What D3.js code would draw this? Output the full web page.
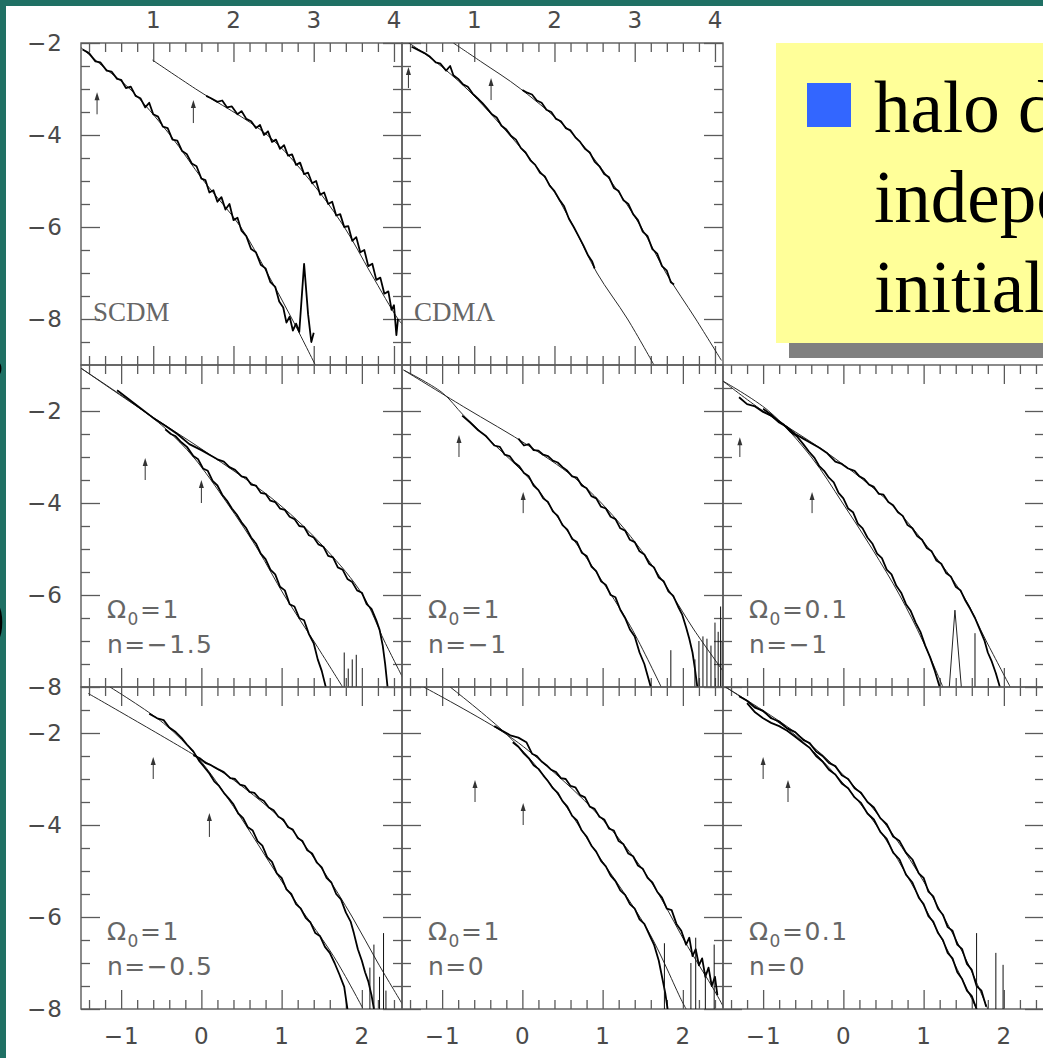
<!DOCTYPE html>
<html>
<head>
<meta charset="utf-8">
<script src="https://cdn.jsdelivr.net/npm/d3@7"></script>
<style>
html, body { margin: 0; padding: 0; background: #1f7064; overflow: hidden; width: 1043px; height: 1058px }
svg { display: block }
</style>
</head>
<body>
<svg id="chart" width="1043" height="1058"></svg>
<script>

// tick labels
const topTicks = [1, 2, 3, 4]
const bottomTicks = [-1, 0, 1, 2]
const yTicks = [-8, -6, -4, -2]
const bulletLines = ['halo density profiles', 'independent of', 'initial conditions']

// SCDM  (x: 0.1..4.1, y: -9..-2)
const scdmFitLow = [[0.1,-2.1],[0.4,-2.55],[0.71,-3.0],[1.21,-4.0],[1.63,-5.0],[2.09,-6.0],[2.42,-7.0],[2.73,-8.0],[3.02,-9.0]]
const scdmFitHigh = [[0.99,-2.37],[1.53,-3.0],[2.42,-4.0],[2.96,-5.0],[3.38,-6.0],[3.71,-7.0],[4.05,-8.0],[4.12,-8.15]]
const scdmLow = [[0.12,-2.14],[0.2,-2.22],[0.28,-2.4],[0.34,-2.42],[0.42,-2.6],[0.48,-2.62],[0.55,-2.78],[0.6,-2.8],[0.66,-2.98],[0.72,-2.95],[0.78,-3.15],[0.84,-3.2],[0.9,-3.4],[0.95,-3.3],[1.0,-3.55],[1.06,-3.6],[1.12,-3.82],[1.18,-3.85],[1.24,-4.1],[1.3,-4.12],[1.36,-4.35],[1.42,-4.42],[1.48,-4.62],[1.54,-4.68],[1.6,-4.95],[1.65,-4.98],[1.7,-5.25],[1.75,-5.2],[1.8,-5.45],[1.85,-5.35],[1.9,-5.62],[1.95,-5.5],[2.0,-5.85],[2.05,-5.8],[2.1,-6.08],[2.16,-6.2],[2.22,-6.48],[2.28,-6.55],[2.34,-6.82],[2.4,-6.9],[2.46,-7.2],[2.52,-7.3],[2.57,-7.62],[2.62,-7.75],[2.66,-8.08],[2.7,-7.95],[2.74,-8.25],[2.78,-8.1],[2.82,-8.28],[2.88,-6.8],[2.93,-7.9],[2.97,-8.5],[3.0,-8.3]]
const scdmHigh = [[1.66,-3.15],[1.72,-3.2],[1.8,-3.28],[1.86,-3.25],[1.92,-3.4],[1.98,-3.38],[2.05,-3.55],[2.1,-3.48],[2.16,-3.65],[2.22,-3.7],[2.28,-3.85],[2.33,-3.78],[2.38,-4.0],[2.43,-3.92],[2.48,-4.15],[2.53,-4.1],[2.58,-4.3],[2.63,-4.22],[2.68,-4.45],[2.73,-4.42],[2.78,-4.65],[2.83,-4.6],[2.88,-4.85],[2.93,-4.82],[2.98,-5.05],[3.03,-5.0],[3.08,-5.3],[3.13,-5.25],[3.18,-5.5],[3.23,-5.45],[3.28,-5.75],[3.33,-5.72],[3.38,-6.0],[3.43,-5.98],[3.48,-6.3],[3.53,-6.22],[3.58,-6.55],[3.63,-6.5],[3.68,-6.85],[3.73,-6.8],[3.78,-7.15],[3.83,-7.1],[3.88,-7.45],[3.93,-7.4],[3.97,-7.8],[4.0,-7.7],[4.03,-8.35],[4.05,-8.0]]
const scdmArrows = [[0.3,-3.07,-3.55],[1.5,-3.24,-3.74]]

// CDM Lambda  (x: 0.1..4.1, y: -9..-2)
const lcdmFitLow = [[0.1,-1.9],[0.49,-2.37],[0.91,-3.0],[1.44,-4.0],[1.91,-5.0],[2.24,-6.0],[2.53,-7.0],[2.91,-8.0],[3.24,-9.0]]
const lcdmFitHigh = [[0.74,-2.0],[1.08,-2.4],[1.58,-3.0],[2.24,-4.0],[2.7,-5.0],[3.08,-6.0],[3.39,-7.0],[3.76,-8.0],[4.08,-8.9]]
const lcdmLow = [[0.22,-2.08],[0.3,-2.15],[0.38,-2.22],[0.45,-2.3],[0.52,-2.42],[0.58,-2.45],[0.65,-2.6],[0.7,-2.5],[0.74,-2.7],[0.8,-2.78],[0.86,-2.9],[0.92,-2.95],[0.98,-3.1],[1.04,-3.2],[1.1,-3.3],[1.16,-3.42],[1.22,-3.55],[1.28,-3.62],[1.34,-3.8],[1.4,-3.88],[1.46,-4.02],[1.52,-4.1],[1.58,-4.28],[1.64,-4.38],[1.7,-4.55],[1.76,-4.65],[1.82,-4.82],[1.88,-4.9],[1.94,-5.1],[2.0,-5.22],[2.06,-5.4],[2.12,-5.55],[2.18,-5.82],[2.24,-6.0],[2.3,-6.2],[2.36,-6.4],[2.42,-6.62],[2.47,-6.75],[2.5,-6.9]]
const lcdmHigh = [[1.6,-3.02],[1.66,-3.08],[1.72,-3.12],[1.78,-3.25],[1.84,-3.3],[1.9,-3.45],[1.96,-3.5],[2.02,-3.65],[2.08,-3.7],[2.14,-3.85],[2.2,-3.9],[2.26,-4.05],[2.32,-4.15],[2.38,-4.3],[2.44,-4.38],[2.5,-4.58],[2.56,-4.68],[2.62,-4.85],[2.68,-4.92],[2.74,-5.15],[2.8,-5.22],[2.86,-5.42],[2.92,-5.5],[2.98,-5.72],[3.04,-5.85],[3.1,-6.1],[3.16,-6.2],[3.22,-6.48],[3.28,-6.58],[3.34,-6.85],[3.4,-6.95],[3.45,-7.2],[3.49,-7.25]]
const lcdmArrows = [[0.18,-2.52,-2.98],[1.21,-2.76,-3.24]]

// Omega0=1, n=-1.5  (x: -1.5..2.5, y: -8..-1)
const p1FitHigh = [[-1.5,-1.07],[-0.72,-2.0],[0.15,-3.0],[0.95,-4.0],[1.55,-5.0],[2.01,-6.0],[2.28,-7.0],[2.51,-7.8]]
const p1FitLow = [[-1.5,-1.07],[-0.72,-2.0],[-0.43,-2.41],[-0.1,-3.0],[0.32,-4.0],[0.7,-5.0],[1.03,-6.0],[1.4,-7.0],[1.76,-8.0]]
const p1High = [[-1.05,-1.55],[-0.9,-1.75],[-0.75,-1.95],[-0.6,-2.15],[-0.45,-2.32],[-0.3,-2.5],[-0.15,-2.72],[0.0,-2.85],[0.1,-2.95],[0.2,-3.05],[0.28,-3.1],[0.35,-3.22],[0.42,-3.28],[0.5,-3.42],[0.56,-3.45],[0.62,-3.6],[0.68,-3.62],[0.74,-3.78],[0.8,-3.8],[0.86,-3.95],[0.92,-3.98],[0.98,-4.12],[1.04,-4.15],[1.1,-4.3],[1.16,-4.35],[1.22,-4.5],[1.28,-4.52],[1.34,-4.7],[1.4,-4.75],[1.46,-4.9],[1.52,-4.95],[1.58,-5.15],[1.64,-5.18],[1.7,-5.4],[1.76,-5.45],[1.82,-5.65],[1.88,-5.72],[1.94,-5.9],[2.0,-5.95],[2.06,-6.2],[2.12,-6.3],[2.18,-6.55],[2.22,-6.75],[2.26,-7.1],[2.29,-7.5],[2.32,-8.0]]
const p1Low = [[-0.45,-2.4],[-0.38,-2.5],[-0.32,-2.55],[-0.25,-2.68],[-0.18,-2.78],[-0.1,-2.98],[-0.04,-3.05],[0.02,-3.25],[0.08,-3.3],[0.14,-3.52],[0.2,-3.62],[0.26,-3.82],[0.32,-3.95],[0.38,-4.12],[0.44,-4.25],[0.5,-4.42],[0.56,-4.55],[0.62,-4.75],[0.68,-4.88],[0.74,-5.1],[0.8,-5.22],[0.86,-5.45],[0.92,-5.55],[0.98,-5.82],[1.04,-5.9],[1.1,-6.2],[1.16,-6.25],[1.22,-6.5],[1.28,-6.55],[1.34,-6.85],[1.4,-7.05],[1.45,-7.4],[1.5,-7.65],[1.55,-8.0]]
const p1Spikes = [[1.78,-7.25],[1.83,-7.6],[1.88,-7.4],[1.93,-7.3]]
const p1Arrows = [[-0.7,-3.02,-3.5],[0.0,-3.5,-4.0]]

// Omega0=1, n=-1
const p2FitHigh = [[-1.48,-1.11],[-0.73,-1.91],[0.1,-2.78],[0.73,-3.57],[1.35,-4.73],[1.85,-5.96],[2.14,-6.76],[2.52,-7.7]]
const p2FitLow = [[-1.48,-1.11],[-1.0,-1.6],[-0.73,-2.1],[-0.32,-2.78],[0.1,-3.5],[0.52,-4.51],[0.93,-5.53],[1.35,-6.69],[1.73,-8.0]]
const p2High = [[-0.05,-2.6],[0.02,-2.75],[0.08,-2.72],[0.14,-2.85],[0.2,-2.86],[0.26,-2.95],[0.32,-2.98],[0.38,-3.08],[0.44,-3.12],[0.5,-3.22],[0.56,-3.3],[0.62,-3.42],[0.68,-3.45],[0.74,-3.62],[0.8,-3.68],[0.86,-3.85],[0.92,-3.9],[0.98,-4.08],[1.04,-4.12],[1.1,-4.3],[1.16,-4.35],[1.22,-4.55],[1.28,-4.6],[1.34,-4.8],[1.4,-4.85],[1.46,-5.05],[1.52,-5.12],[1.58,-5.32],[1.64,-5.4],[1.7,-5.62],[1.76,-5.7],[1.82,-5.92],[1.88,-6.02],[1.94,-6.25],[1.99,-6.42],[2.04,-6.7],[2.08,-6.95],[2.12,-7.25],[2.15,-7.6],[2.18,-8.0]]
const p2Low = [[-0.75,-2.1],[-0.65,-2.25],[-0.55,-2.42],[-0.45,-2.55],[-0.35,-2.75],[-0.28,-2.78],[-0.22,-2.95],[-0.16,-2.98],[-0.1,-3.12],[-0.04,-3.2],[0.02,-3.35],[0.08,-3.42],[0.14,-3.62],[0.2,-3.72],[0.26,-3.9],[0.32,-3.98],[0.38,-4.18],[0.44,-4.28],[0.5,-4.48],[0.56,-4.58],[0.62,-4.78],[0.68,-4.85],[0.74,-5.08],[0.8,-5.15],[0.86,-5.38],[0.92,-5.48],[0.98,-5.7],[1.04,-5.78],[1.1,-6.0],[1.16,-6.05],[1.22,-6.32],[1.28,-6.5],[1.34,-6.75],[1.4,-6.9],[1.46,-7.25],[1.52,-7.5],[1.56,-7.75],[1.6,-8.0]]
const p2Spikes = [[1.85,-7.2],[2.15,-7.4],[2.2,-7.0],[2.25,-6.9],[2.3,-6.95],[2.35,-7.1],[2.4,-6.6],[2.44,-6.8],[2.47,-6.25],[2.49,-7.0]]
const p2Arrows = [[-0.79,-2.52,-3.0],[0.01,-3.76,-4.22]]

// Omega0=0.1, n=-1
const p3FitHigh = [[-1.5,-1.35],[-1.05,-1.94],[-0.13,-3.0],[0.58,-4.0],[1.07,-5.0],[1.49,-6.0],[1.78,-7.0],[2.08,-8.0]]
const p3FitLow = [[-1.5,-1.35],[-0.93,-2.0],[-0.4,-3.0],[-0.01,-4.0],[0.36,-5.0],[0.7,-6.0],[0.99,-7.0],[1.24,-8.0]]
const p3High = [[-1.3,-1.7],[-1.2,-1.85],[-1.1,-1.9],[-1.0,-2.02],[-0.9,-2.1],[-0.8,-2.25],[-0.7,-2.35],[-0.6,-2.5],[-0.5,-2.6],[-0.4,-2.7],[-0.3,-2.8],[-0.2,-2.92],[-0.1,-3.1],[-0.02,-3.15],[0.06,-3.25],[0.14,-3.3],[0.2,-3.42],[0.26,-3.48],[0.32,-3.6],[0.38,-3.65],[0.44,-3.8],[0.5,-3.82],[0.56,-3.98],[0.62,-4.05],[0.68,-4.2],[0.74,-4.28],[0.8,-4.48],[0.86,-4.55],[0.92,-4.72],[0.98,-4.8],[1.04,-4.98],[1.1,-5.05],[1.16,-5.25],[1.22,-5.32],[1.28,-5.52],[1.34,-5.6],[1.4,-5.82],[1.46,-5.9],[1.52,-6.12],[1.58,-6.3],[1.64,-6.5],[1.7,-6.75],[1.76,-7.0],[1.8,-7.25],[1.85,-7.45],[1.9,-7.7],[1.95,-8.0]]
const p3Low = [[-1.0,-1.95],[-0.9,-2.08],[-0.82,-2.2],[-0.74,-2.3],[-0.66,-2.45],[-0.58,-2.55],[-0.5,-2.72],[-0.43,-2.88],[-0.36,-3.02],[-0.3,-3.2],[-0.24,-3.3],[-0.18,-3.45],[-0.12,-3.55],[-0.06,-3.78],[0.0,-3.9],[0.06,-4.12],[0.12,-4.2],[0.18,-4.45],[0.24,-4.55],[0.3,-4.75],[0.36,-4.88],[0.42,-5.1],[0.48,-5.2],[0.54,-5.45],[0.6,-5.55],[0.66,-5.8],[0.72,-5.95],[0.78,-6.2],[0.84,-6.35],[0.9,-6.6],[0.96,-6.8],[1.02,-7.1],[1.08,-7.35],[1.14,-7.65],[1.2,-8.0]]
const p3Peak = [[1.32,-8.0],[1.39,-6.33],[1.47,-8.0]]
const p3Spikes = [[1.64,-6.83]]
const p3Arrows = [[-1.29,-2.57,-3.0],[-0.39,-3.76,-4.22]]

// Omega0=1, n=-0.5
const p4FitShallow = [[-1.41,-1.14],[-0.05,-2.52],[0.4,-3.02],[1.07,-4.0],[1.52,-5.0],[1.88,-6.0],[2.2,-7.0],[2.51,-7.91]]
const p4FitSteep = [[-1.14,-1.0],[-0.47,-1.79],[-0.05,-2.52],[0.4,-3.6],[1.03,-5.3],[1.65,-6.86],[2.01,-7.98]]
const p4High = [[-0.1,-2.48],[-0.02,-2.55],[0.05,-2.65],[0.12,-2.7],[0.2,-2.78],[0.28,-2.85],[0.36,-2.98],[0.42,-3.0],[0.48,-3.12],[0.54,-3.15],[0.6,-3.28],[0.66,-3.3],[0.72,-3.42],[0.78,-3.48],[0.84,-3.62],[0.9,-3.68],[0.96,-3.82],[1.02,-3.88],[1.08,-4.05],[1.14,-4.1],[1.2,-4.28],[1.26,-4.35],[1.32,-4.55],[1.38,-4.62],[1.44,-4.82],[1.5,-4.92],[1.56,-5.15],[1.62,-5.25],[1.68,-5.5],[1.74,-5.62],[1.8,-5.9],[1.86,-6.1],[1.9,-6.35],[1.95,-6.7],[2.0,-6.95],[2.04,-7.2],[2.08,-7.4],[2.12,-7.7],[2.15,-8.0]]
const p4Low = [[-0.65,-1.58],[-0.55,-1.68],[-0.47,-1.72],[-0.4,-1.88],[-0.32,-1.98],[-0.25,-2.1],[-0.18,-2.25],[-0.1,-2.4],[-0.03,-2.6],[0.04,-2.75],[0.1,-2.88],[0.16,-3.05],[0.22,-3.15],[0.28,-3.3],[0.34,-3.42],[0.4,-3.55],[0.46,-3.75],[0.52,-3.85],[0.58,-4.05],[0.64,-4.12],[0.7,-4.35],[0.76,-4.45],[0.82,-4.7],[0.88,-4.8],[0.94,-5.05],[1.0,-5.15],[1.06,-5.4],[1.12,-5.5],[1.18,-5.72],[1.24,-5.82],[1.3,-6.02],[1.36,-6.12],[1.42,-6.35],[1.48,-6.42],[1.54,-6.65],[1.6,-6.78],[1.66,-7.0],[1.72,-7.25],[1.78,-7.52],[1.82,-8.0]]
const p4Spikes = [[2.1,-7.1],[2.15,-6.6],[2.22,-7.3],[2.27,-6.35],[2.3,-7.6]]
const p4Arrows = [[-0.6,-2.52,-3.0],[0.1,-3.74,-4.26]]

// Omega0=1, n=0
const p5FitSteep = [[-0.9,-1.0],[-0.19,-2.04],[0.31,-3.02],[0.93,-4.62],[1.56,-6.28],[1.98,-7.8],[2.04,-8.0]]
const p5FitShallow = [[-1.23,-1.0],[-0.19,-2.04],[0.31,-2.73],[0.93,-3.75],[1.56,-5.12],[2.06,-6.64],[2.39,-7.59],[2.52,-8.0]]
const p5High = [[-0.35,-1.85],[-0.25,-1.95],[-0.15,-2.05],[-0.05,-2.1],[0.05,-2.2],[0.12,-2.45],[0.18,-2.5],[0.24,-2.62],[0.3,-2.7],[0.36,-2.8],[0.42,-2.85],[0.48,-2.98],[0.54,-3.0],[0.6,-3.15],[0.66,-3.18],[0.72,-3.35],[0.78,-3.4],[0.84,-3.6],[0.9,-3.65],[0.96,-3.82],[1.02,-3.88],[1.08,-4.08],[1.14,-4.12],[1.2,-4.35],[1.26,-4.42],[1.32,-4.62],[1.38,-4.68],[1.44,-4.88],[1.5,-4.95],[1.56,-5.15],[1.62,-5.25],[1.68,-5.45],[1.74,-5.58],[1.8,-5.82],[1.86,-5.85],[1.92,-6.15],[1.98,-6.3],[2.04,-6.6],[2.08,-6.45],[2.12,-6.85],[2.16,-6.7],[2.2,-7.05],[2.24,-6.9],[2.28,-7.3],[2.32,-7.1],[2.36,-7.5],[2.4,-7.3],[2.43,-7.7]]
const p5Low = [[-0.12,-2.2],[-0.05,-2.3],[0.02,-2.45],[0.08,-2.55],[0.14,-2.7],[0.2,-2.78],[0.26,-2.92],[0.32,-3.05],[0.38,-3.2],[0.44,-3.3],[0.5,-3.48],[0.56,-3.6],[0.62,-3.8],[0.68,-3.9],[0.74,-4.12],[0.8,-4.25],[0.86,-4.45],[0.92,-4.58],[0.98,-4.78],[1.04,-4.9],[1.1,-5.1],[1.16,-5.22],[1.22,-5.42],[1.28,-5.52],[1.34,-5.72],[1.4,-5.82],[1.46,-6.05],[1.52,-6.15],[1.58,-6.38],[1.64,-6.6],[1.7,-6.95],[1.74,-7.3],[1.78,-7.65],[1.81,-8.0]]
const p5Spikes = [[1.77,-6.57],[2.1,-7.0],[2.16,-6.45],[2.28,-7.2],[2.39,-6.6]]
const p5Arrows = [[-0.59,-3.02,-3.5],[0.01,-3.52,-4.0]]

// Omega0=0.1, n=0
const p6FitA = [[-1.47,-1.0],[-0.59,-2.0],[0.05,-3.0],[0.53,-4.0],[0.92,-5.0],[1.25,-6.0],[1.55,-7.0],[1.8,-8.0]]
const p6FitB = [[-1.47,-1.0],[-0.59,-2.06],[-0.05,-3.0],[0.41,-4.0],[0.76,-5.0],[1.08,-6.0],[1.38,-7.0],[1.66,-8.0]]
const p6High = [[-1.3,-1.2],[-1.2,-1.3],[-1.1,-1.45],[-1.0,-1.52],[-0.9,-1.68],[-0.8,-1.75],[-0.7,-1.9],[-0.6,-1.98],[-0.5,-2.15],[-0.42,-2.22],[-0.34,-2.4],[-0.26,-2.5],[-0.18,-2.65],[-0.1,-2.72],[-0.02,-2.92],[0.06,-3.0],[0.14,-3.2],[0.22,-3.3],[0.3,-3.5],[0.38,-3.62],[0.46,-3.85],[0.54,-3.98],[0.62,-4.25],[0.7,-4.35],[0.78,-4.6],[0.86,-4.75],[0.94,-5.05],[1.0,-5.15],[1.06,-5.45],[1.12,-5.55],[1.18,-5.82],[1.24,-5.95],[1.3,-6.22],[1.36,-6.3],[1.42,-6.6],[1.48,-6.7],[1.54,-7.02],[1.6,-7.15],[1.66,-7.5],[1.72,-7.6],[1.78,-7.95]]
const p6Low = [[-1.2,-1.35],[-1.1,-1.55],[-1.0,-1.68],[-0.9,-1.78],[-0.8,-1.85],[-0.7,-1.95],[-0.6,-2.08],[-0.5,-2.22],[-0.42,-2.32],[-0.34,-2.5],[-0.26,-2.62],[-0.18,-2.8],[-0.1,-2.9],[-0.02,-3.1],[0.06,-3.2],[0.14,-3.4],[0.22,-3.52],[0.3,-3.75],[0.38,-3.88],[0.46,-4.15],[0.54,-4.3],[0.62,-4.6],[0.7,-4.75],[0.78,-5.08],[0.86,-5.25],[0.94,-5.58],[1.0,-5.72],[1.06,-5.98],[1.12,-6.1],[1.18,-6.35],[1.24,-6.5],[1.3,-6.78],[1.36,-6.9],[1.42,-7.2],[1.48,-7.35],[1.54,-7.6],[1.6,-7.72],[1.66,-8.0]]
const p6Spikes = [[1.66,-6.35],[1.9,-6.78],[1.99,-7.04]]
const p6Arrows = [[-1.0,-2.52,-3.0],[-0.69,-3.02,-3.5]]

const topX = [0.1, 4.1], topY = [-9, -2]
const lowX = [-1.5, 2.5], lowY = [-8, -1]

const panels = [
    { row: 0, col: 0, xd: topX, yd: topY, fits: [scdmFitLow, scdmFitHigh], data: [scdmLow, scdmHigh], thin: [], spikes: [], arrows: scdmArrows, name: 'SCDM' },
    { row: 0, col: 1, xd: topX, yd: topY, fits: [lcdmFitLow, lcdmFitHigh], data: [lcdmLow, lcdmHigh], thin: [], spikes: [], arrows: lcdmArrows, name: 'CDMΛ' },
    { row: 1, col: 0, xd: lowX, yd: lowY, fits: [p1FitHigh, p1FitLow], data: [p1High, p1Low], thin: [], spikes: p1Spikes, arrows: p1Arrows, omega: '1', n: '−1.5' },
    { row: 1, col: 1, xd: lowX, yd: lowY, fits: [p2FitHigh, p2FitLow], data: [p2High, p2Low], thin: [], spikes: p2Spikes, arrows: p2Arrows, omega: '1', n: '−1' },
    { row: 1, col: 2, xd: lowX, yd: lowY, fits: [p3FitHigh, p3FitLow], data: [p3High, p3Low], thin: [p3Peak], spikes: p3Spikes, arrows: p3Arrows, omega: '0.1', n: '−1' },
    { row: 2, col: 0, xd: lowX, yd: lowY, fits: [p4FitShallow, p4FitSteep], data: [p4High, p4Low], thin: [], spikes: p4Spikes, arrows: p4Arrows, omega: '1', n: '−0.5' },
    { row: 2, col: 1, xd: lowX, yd: lowY, fits: [p5FitSteep, p5FitShallow], data: [p5High, p5Low], thin: [], spikes: p5Spikes, arrows: p5Arrows, omega: '1', n: '0' },
    { row: 2, col: 2, xd: lowX, yd: lowY, fits: [p6FitA, p6FitB], data: [p6High, p6Low], thin: [], spikes: p6Spikes, arrows: p6Arrows, omega: '0.1', n: '0' }
]

const colX = [81, 402, 723], rowY = [43, 365, 687]
const W = 321, H = 322
const axisColor = '#5a5a5a'
const tickFont = '"DejaVu Sans", sans-serif'

const svg = d3.select('#chart')

svg.append('rect').attr('x', 6).attr('y', 6).attr('width', 1100).attr('height', 1100).attr('fill', '#fff')

// bits of big slide text peeking at the left edge
svg.append('text').attr('x', -24).attr('y', 378).attr('font-family', '"Liberation Serif", serif').attr('font-size', 72).attr('fill', '#000').text('s')
svg.append('text').attr('x', -31).attr('y', 646).attr('font-family', '"Liberation Serif", serif').attr('font-size', 72).attr('fill', '#000').text('0')

const defs = svg.append('defs')

function tickAxis(g, axisFn, scale, values, size, transform) {
    g.append('g').attr('transform', transform)
        .call(axisFn(scale).tickValues(values).tickSize(-size).tickSizeOuter(0).tickFormat(''))
        .call(s => s.select('.domain').remove())
        .call(s => s.selectAll('line').attr('stroke', axisColor).attr('stroke-width', 1.3))
}

function labelAxis(g, axisFn, scale, values, pad, transform) {
    g.append('g').attr('transform', transform)
        .call(axisFn(scale).tickValues(values).tickSize(0).tickPadding(pad).tickFormat(d3.format('d')))
        .call(s => s.select('.domain').remove())
        .call(s => s.selectAll('text')
            .attr('font-family', tickFont)
            .attr('font-size', 23)
            .attr('fill', '#4a4a4a')
            .attr('letter-spacing', 1))
}

const isInt = v => Math.abs(v - Math.round(v)) < 1e-6

panels.forEach((p, i) => {
    const x0 = colX[p.col], y0 = rowY[p.row]
    const x = d3.scaleLinear().domain(p.xd).range([x0, x0 + W])
    const y = d3.scaleLinear().domain(p.yd).range([y0 + H, y0])
    const g = svg.append('g')

    defs.append('clipPath').attr('id', 'clip' + i)
        .append('rect').attr('x', x0).attr('y', y0).attr('width', W).attr('height', H)

    const xMajor = p.row === 0 ? topTicks : bottomTicks
    const xMinor = d3.range(p.xd[0] + 0.1, p.xd[1], 0.2).map(v => Math.round(v * 10) / 10).filter(v => !isInt(v))
    const yMinor = d3.range(p.yd[0] + 0.5, p.yd[1], 0.5).filter(v => !(isInt(v) && Math.round(v) % 2 === 0))

    // frame
    g.append('rect').attr('x', x0).attr('y', y0).attr('width', W).attr('height', H)
        .attr('fill', 'none').attr('stroke', axisColor).attr('stroke-width', 1.4)

    // inward ticks on all four sides
    ;[[xMajor, 19], [xMinor, 9]].forEach(([vals, len]) => {
        tickAxis(g, d3.axisBottom, x, vals, len, `translate(0,${y0 + H})`)
        tickAxis(g, d3.axisTop, x, vals, len, `translate(0,${y0})`)
    })
    ;[[yTicks, 19], [yMinor, 9]].forEach(([vals, len]) => {
        tickAxis(g, d3.axisLeft, y, vals, len, `translate(${x0},0)`)
        tickAxis(g, d3.axisRight, y, vals, len, `translate(${x0 + W},0)`)
    })

    if (p.col === 0) labelAxis(g, d3.axisLeft, y, yTicks, 18, `translate(${x0},0)`)
    if (p.row === 0) labelAxis(g, d3.axisTop, x, topTicks, 15, `translate(0,${y0})`)
    if (p.row === 2) labelAxis(g, d3.axisBottom, x, bottomTicks, 19, `translate(0,${y0 + H})`)

    const plot = g.append('g').attr('clip-path', `url(#clip${i})`)

    const fitLine = d3.line().x(d => x(d[0])).y(d => y(d[1])).curve(d3.curveCatmullRom.alpha(0.5))
    const dataLine = d3.line().x(d => x(d[0])).y(d => y(d[1]))

    plot.selectAll('path.fit').data(p.fits).enter().append('path')
        .attr('class', 'fit')
        .attr('d', fitLine)
        .attr('fill', 'none').attr('stroke', '#2a2a2a').attr('stroke-width', 1)

    plot.selectAll('path.data').data(p.data).enter().append('path')
        .attr('class', 'data')
        .attr('d', dataLine)
        .attr('fill', 'none').attr('stroke', '#000').attr('stroke-width', 1.8).attr('stroke-linejoin', 'round')

    plot.selectAll('path.thin').data(p.thin).enter().append('path')
        .attr('class', 'thin')
        .attr('d', dataLine)
        .attr('fill', 'none').attr('stroke', '#222').attr('stroke-width', 1)

    plot.selectAll('line.spike').data(p.spikes).enter().append('line')
        .attr('class', 'spike')
        .attr('x1', d => x(d[0])).attr('x2', d => x(d[0]))
        .attr('y1', y(p.yd[0])).attr('y2', d => y(d[1]))
        .attr('stroke', '#111').attr('stroke-width', 1)

    // little arrows
    const arr = plot.selectAll('g.arrow').data(p.arrows).enter().append('g').attr('class', 'arrow')
    arr.append('line')
        .attr('x1', d => x(d[0])).attr('x2', d => x(d[0]))
        .attr('y1', d => y(d[2])).attr('y2', d => y(d[1]) + 4)
        .attr('stroke', '#333').attr('stroke-width', 1)
    arr.append('path')
        .attr('d', d => `M${x(d[0]) - 2.5},${y(d[1]) + 8}L${x(d[0])},${y(d[1])}L${x(d[0]) + 2.5},${y(d[1]) + 8}Z`)
        .attr('fill', '#333')

    // panel labels
    if (p.name) {
        g.append('text')
            .attr('x', x0 + 12).attr('y', y0 + 278)
            .attr('font-family', '"Liberation Serif", serif')
            .attr('font-size', 27)
            .attr('fill', '#666')
            .text(p.name)
    } else {
        const t = g.append('text')
            .attr('x', x0 + 26).attr('y', y0 + 253)
            .attr('font-family', tickFont)
            .attr('font-size', 25)
            .attr('fill', '#666')
            .attr('letter-spacing', 1.5)
        t.append('tspan').text('Ω')
        t.append('tspan').attr('font-size', 17).attr('dy', 7).text('0')
        t.append('tspan').attr('dy', -7).text('=' + p.omega)
        g.append('text')
            .attr('x', x0 + 26).attr('y', y0 + 288)
            .attr('font-family', tickFont)
            .attr('font-size', 25)
            .attr('fill', '#666')
            .attr('letter-spacing', 1.5)
            .text('n=' + p.n)
    }
})

// yellow bullet box in the empty corner
svg.append('rect').attr('x', 789).attr('y', 58).attr('width', 320).attr('height', 300).attr('fill', '#808080')
svg.append('rect').attr('x', 776).attr('y', 43).attr('width', 320).attr('height', 300).attr('fill', '#ffff99')
svg.append('rect').attr('x', 807).attr('y', 83).attr('width', 44).attr('height', 44).attr('fill', '#3366ff')

svg.selectAll('text.bullet').data(bulletLines).enter().append('text')
    .attr('class', 'bullet')
    .attr('x', 874)
    .attr('y', (d, i) => 132 + i * 90)
    .attr('font-family', '"Liberation Serif", "Times New Roman", serif')
    .attr('font-size', 73)
    .attr('fill', '#000')
    .text(d => d)

</script>
</body>
</html>
